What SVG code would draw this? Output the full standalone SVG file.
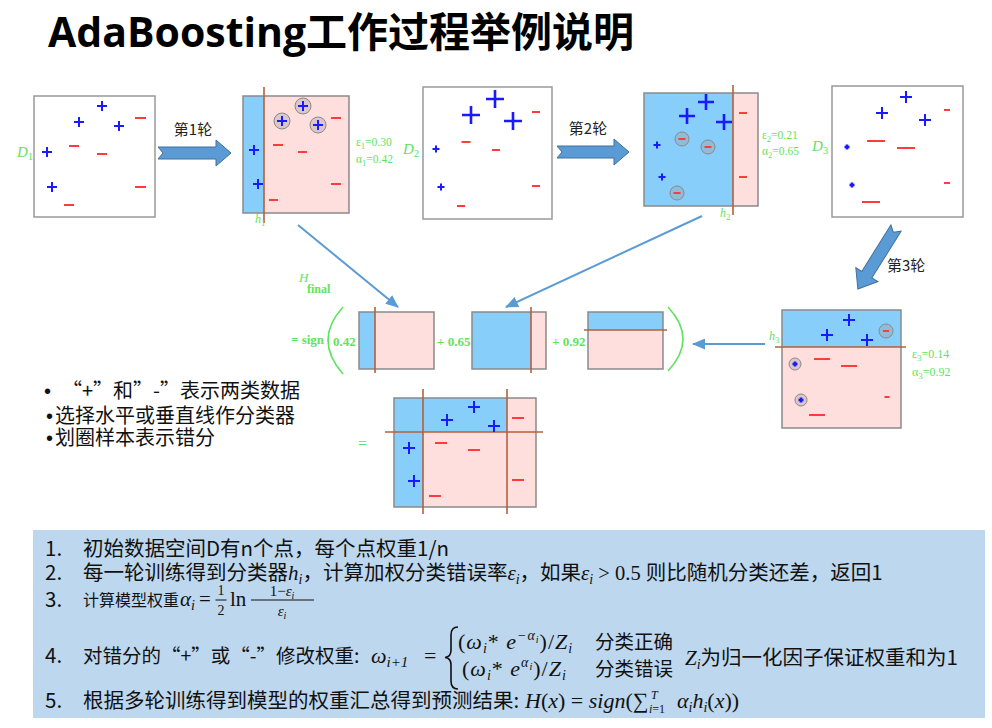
<svg xmlns="http://www.w3.org/2000/svg" width="992" height="728" viewBox="0 0 992 728">
<defs>
<style>
.title{font-family:"Open Sans","Noto Sans CJK SC",sans-serif;font-weight:bold;font-size:41px;fill:#000}
.box{fill:#fff;stroke:#999;stroke-width:1.5}
.blue{fill:#87cefa}
.pink{fill:#ffdede}
.frame{fill:none;stroke:#8a8a8a;stroke-width:1.5}
.split{stroke:#b5603a;stroke-width:1.6}
.p{stroke:#1a1aff;stroke-width:2;fill:none}
.pb{stroke:#1a1aff;stroke-width:2.6;fill:none}
.m{stroke:#ff3b3b;stroke-width:2;fill:none}
.ring{fill:#9a9a9a;fill-opacity:.35;stroke:#8a8a8a;stroke-width:1}
.g{font-family:"Liberation Serif",serif;fill:#5fe35f}
.gi{font-style:italic}
.gb{font-weight:bold}
.blk{fill:#5b9bd5;stroke:#41719c;stroke-width:1}
.lbl{font-family:"Noto Sans CJK SC",sans-serif;font-size:15px;fill:#222}
.conn{stroke:#5b9bd5;stroke-width:2;fill:none}
.bul{font-family:"Noto Sans CJK SC",sans-serif;font-size:20px;fill:#111}
.dot{font-family:"Liberation Sans",sans-serif;font-size:20px;fill:#111}
.bt{font-family:"Noto Sans CJK SC",sans-serif;font-size:20.5px;fill:#111}
.mi{font-family:"Liberation Serif",serif;font-style:italic;font-size:21px;fill:#111}
.mr{font-family:"Liberation Serif",serif;font-style:normal}
.ms{font-family:"Liberation Serif",serif;font-style:italic;font-size:14px}
.gp{fill:none;stroke:#5fe35f;stroke-width:1.6}
</style>
<marker id="ah" markerWidth="13" markerHeight="11" refX="12" refY="5.5" orient="auto" markerUnits="userSpaceOnUse">
<path d="M0,0 L13,5.5 L0,11 z" fill="#5b9bd5"/>
</marker>
</defs>
<rect width="992" height="728" fill="#fff"/>

<g id="title">
<text x="48" y="47" class="title">AdaBoosting工作过程举例说明</text>
</g>

<g id="panel-d1">
<rect x="34" y="96" width="121" height="121" class="box"/>
<path class="p" d="M97 106h10M102 101v10M74 122h10M79 117v10M114 126h10M119 121v10M42 152h10M47 147v10M47 187h10M52 182v10"/>
<path class="m" d="M135 118h11M69 146h10M97 154h10M135 187h11M64 205h10"/>
<text x="17" y="157" class="g gi" font-size="15">D<tspan font-size="11" dy="3" font-style="normal">1</tspan></text>
</g>

<g id="panel-h1">
<rect x="243" y="96" width="21" height="117" class="blue"/>
<rect x="264" y="96" width="85" height="117" class="pink"/>
<rect x="243" y="96" width="106" height="117" class="frame"/>
<line x1="264" y1="87" x2="264" y2="223" class="split"/>
<circle cx="303" cy="106" r="8" class="ring"/><circle cx="282" cy="121" r="8" class="ring"/><circle cx="318" cy="125" r="8" class="ring"/>
<path class="p" d="M298 106h10M303 101v10M277 121h10M282 116v10M313 125h10M318 120v10M249 150h10M254 145v10M253 184h10M258 179v10"/>
<path class="m" d="M331 118h10M273 145h10M298 152h9M331 184h10M269 200h9"/>
<text x="255" y="223" class="g gi" font-size="12">h<tspan font-size="9" dy="3" font-style="normal">1</tspan></text>
<text x="356" y="146" class="g" font-size="11.5">ε<tspan font-size="8.5" dy="3">1</tspan><tspan dy="-3">=0.30</tspan></text>
<text x="356" y="163" class="g" font-size="11.5">α<tspan font-size="8.5" dy="3">1</tspan><tspan dy="-3">=0.42</tspan></text>
</g>

<g id="panel-d2">
<rect x="423" y="87" width="129" height="132" class="box"/>
<path class="pb" d="M486 99h18M495 90v18M462 115h18M471 106v18M504 121h18M513 112v18"/>
<path class="p" d="M432.5 149h7M436 145.5v7M437.5 187h7M441 183.5v7"/>
<path class="m" d="M532 112h8M461.5 142h9M492 150h8M532 186h8M457 206h8"/>
<text x="403" y="154" class="g gi" font-size="15">D<tspan font-size="11" dy="3" font-style="normal">2</tspan></text>
</g>

<g id="panel-h2">
<rect x="644" y="93" width="89" height="113" class="blue"/>
<rect x="733" y="93" width="25" height="113" class="pink"/>
<rect x="644" y="93" width="114" height="113" class="frame"/>
<line x1="733" y1="85" x2="733" y2="215" class="split"/>
<path class="pb" d="M698 102h16M706 94v16M679 116h16M687 108v16M716 122h16M724 114v16"/>
<path class="p" d="M653.5 145h7M657 141.5v7M658.5 177h7M662 173.5v7"/>
<circle cx="682" cy="139" r="7" class="ring"/><circle cx="708" cy="147" r="7" class="ring"/><circle cx="677" cy="193" r="7" class="ring"/>
<path class="m" d="M739 113h8M739 177h8M678.5 139h7M704.5 147h7M673.5 193h7"/>
<text x="720" y="217" class="g gi" font-size="12">h<tspan font-size="9" dy="3" font-style="normal">2</tspan></text>
<text x="762" y="139" class="g" font-size="11.5">ε<tspan font-size="8.5" dy="3">2</tspan><tspan dy="-3">=0.21</tspan></text>
<text x="762" y="155" class="g" font-size="11.5">α<tspan font-size="8.5" dy="3">2</tspan><tspan dy="-3">=0.65</tspan></text>
</g>

<g id="panel-d3">
<rect x="832" y="86" width="131" height="131" class="box"/>
<path class="p" d="M900 97h12M906 91v12M876 113h12M882 107v12M919 120h12M925 114v12"/>
<path class="pb" d="M844.5 147h5M847 144.5v5M849.5 185h5M852 182.5v5"/>
<path class="m" d="M944 110h6M944 183h6M867 141h18M897 148h18M862 202h18"/>
<text x="812" y="151" class="g gi" font-size="15">D<tspan font-size="11" dy="3" font-style="normal">3</tspan></text>
</g>

<g id="panel-h3">
<rect x="782" y="310" width="119" height="37" class="blue"/>
<rect x="782" y="347" width="119" height="81" class="pink"/>
<rect x="782" y="310" width="119" height="118" class="frame"/>
<line x1="775" y1="347" x2="906" y2="347" class="split"/>
<path class="p" d="M843 320h12M849 314v12M821 335h12M827 329v12M861 340h12M867 334v12"/>
<circle cx="886" cy="331" r="7" class="ring"/><circle cx="795" cy="364" r="6" class="ring"/><circle cx="801" cy="400" r="6" class="ring"/>
<path class="pb" d="M792.5 364h5M795 361.5v5M798.5 400h5M801 397.5v5"/>
<path class="m" d="M883 331h6M814 359h16M841 366h16M809 415h16M884.5 397h5"/>
<text x="769" y="340" class="g gi" font-size="12">h<tspan font-size="9" dy="3" font-style="normal">3</tspan></text>
<text x="912" y="358" class="g" font-size="12">ε<tspan font-size="9" dy="3">3</tspan><tspan dy="-3">=0.14</tspan></text>
<text x="912" y="376" class="g" font-size="12">α<tspan font-size="9" dy="3">3</tspan><tspan dy="-3">=0.92</tspan></text>
</g>

<g id="formula">
<text x="299" y="282" class="g gi" font-size="13">H</text>
<text x="307" y="293" class="g gb" font-size="12">final</text>
<text x="291" y="344" class="g gb" font-size="13">= sign</text>
<path class="gp" d="M343 307Q313 340 343 374"/>
<text x="333" y="346" class="g gb" font-size="13">0.42</text>
<rect x="359" y="312" width="16" height="57" class="blue"/>
<rect x="375" y="312" width="59" height="57" class="pink"/>
<rect x="359" y="312" width="75" height="57" class="frame"/>
<line x1="375" y1="307" x2="375" y2="373" class="split"/>
<text x="437" y="346" class="g gb" font-size="13">+ 0.65</text>
<rect x="472" y="312" width="59" height="57" class="blue"/>
<rect x="531" y="312" width="15" height="57" class="pink"/>
<rect x="472" y="312" width="74" height="57" class="frame"/>
<line x1="531" y1="307" x2="531" y2="373" class="split"/>
<text x="552" y="346" class="g gb" font-size="13">+ 0.92</text>
<rect x="588" y="312" width="75" height="18" class="blue"/>
<rect x="588" y="330" width="75" height="39" class="pink"/>
<rect x="588" y="312" width="75" height="57" class="frame"/>
<line x1="584" y1="330" x2="667" y2="330" class="split"/>
<path class="gp" d="M668 307Q698 339 668 371"/>
</g>

<g id="final">
<text x="358" y="449" class="g" font-size="16">=</text>
<rect x="394" y="398" width="113" height="34" class="blue"/>
<rect x="394" y="432" width="29" height="75" class="blue"/>
<rect x="507" y="398" width="29" height="109" class="pink"/>
<rect x="423" y="432" width="84" height="75" class="pink"/>
<rect x="394" y="398" width="142" height="109" class="frame"/>
<line x1="423" y1="389" x2="423" y2="514" class="split"/>
<line x1="507" y1="389" x2="507" y2="514" class="split"/>
<line x1="385" y1="432" x2="543" y2="432" class="split"/>
<path class="p" d="M468 407h12M474 401v12M441 420h12M447 414v12M488 426h12M494 420v12M403 448h12M409 442v12M408 481h12M414 475v12"/>
<path class="m" d="M512 418h12M435 443h12M468 450h12M512 480h12M429 496h12"/>
</g>

<g id="bullets">
<text x="44" y="398" class="dot">•</text><text x="62" y="398" class="bul">“+”和”-”表示两类数据</text>
<text x="46" y="423" class="dot">•</text><text x="55" y="423" class="bul">选择水平或垂直线作分类器</text>
<text x="46" y="445" class="dot">•</text><text x="55" y="445" class="bul">划圈样本表示错分</text>
</g>

<g id="steps">
<rect x="33" y="530" width="952" height="188" fill="#bdd7ee"/>
<text x="45" y="556" class="bt">1.</text>
<text x="83" y="556" class="bt">初始数据空间D有n个点，每个点权重1/n</text>
<text x="45" y="580" class="bt">2.</text>
<text x="83" y="580" class="bt">每一轮训练得到分类器<tspan class="mi">h</tspan><tspan class="ms" dy="4">i</tspan><tspan dy="-4">，计算加权分类错误率</tspan><tspan class="mi">ε</tspan><tspan class="ms" dy="4">i</tspan><tspan dy="-4">，如果</tspan><tspan class="mi">ε</tspan><tspan class="ms" dy="4">i</tspan><tspan class="mr" dy="-4">&#160;&gt;&#160;0.5&#160;</tspan>则比随机分类还差，返回1</text>
<text x="45" y="607" class="bt">3.</text>
<text x="83" y="606" class="bt" style="font-size:16px">计算模型权重</text>
<text x="180" y="606" class="mi">α<tspan class="ms" dy="4">i</tspan></text>
<text x="199" y="606" class="mi"><tspan class="mr">=</tspan></text>
<text x="221" y="595" class="mi" text-anchor="middle" style="font-size:14px"><tspan class="mr">1</tspan></text>
<line x1="215.5" y1="600" x2="226.5" y2="600" stroke="#111" stroke-width="1"/>
<text x="221" y="615" class="mi" text-anchor="middle" style="font-size:14px"><tspan class="mr">2</tspan></text>
<text x="230" y="606" class="mi"><tspan class="mr">ln</tspan></text>
<text x="282" y="596" class="mi" text-anchor="middle" style="font-size:15px"><tspan class="mr">1−</tspan>ε<tspan style="font-size:10px" dy="3">i</tspan></text>
<line x1="251" y1="600" x2="314" y2="600" stroke="#111" stroke-width="1"/>
<text x="282" y="616" class="mi" text-anchor="middle" style="font-size:15px">ε<tspan style="font-size:10px" dy="3">i</tspan></text>

<text x="45" y="663" class="bt">4.</text>
<text x="83" y="663" class="bt" style="font-size:19.5px">对错分的“+”或“-”修改权重:</text>
<text x="371" y="663" class="mi" style="font-size:22px">ω<tspan class="ms" style="font-size:15px" dy="4">i+1</tspan></text>
<text x="424" y="663" class="mi" style="font-size:22px"><tspan class="mr">=</tspan></text>
<path d="M458 627Q451 627 451 635L451 650Q451 657 445 657.5Q451 658 451 665L451 681Q451 689 458 689" fill="none" stroke="#111" stroke-width="1.6"/>
<text x="458" y="649" class="mi" style="font-size:22px;letter-spacing:1px"><tspan class="mr">(</tspan>ω<tspan class="ms" dy="4">i</tspan><tspan class="mr" dy="-4">*&#160;</tspan>e<tspan class="ms" dy="-9">−α</tspan><tspan style="font-size:10px" dy="3">i</tspan><tspan class="mr" dy="6">)/</tspan>Z<tspan class="ms" dy="4">i</tspan></text>
<text x="462" y="676" class="mi" style="font-size:22px;letter-spacing:1px"><tspan class="mr">(</tspan>ω<tspan class="ms" dy="4">i</tspan><tspan class="mr" dy="-4">*&#160;</tspan>e<tspan class="ms" dy="-9">α</tspan><tspan style="font-size:10px" dy="3">i</tspan><tspan class="mr" dy="6">)/</tspan>Z<tspan class="ms" dy="4">i</tspan></text>
<text x="595" y="649" class="bt" style="font-size:19.5px">分类正确</text>
<text x="595" y="676" class="bt" style="font-size:19.5px">分类错误</text>
<text x="685" y="665" class="bt"><tspan class="mi">Z</tspan><tspan class="ms" dy="4">i</tspan><tspan dy="-4">为归一化因子保证权重和为1</tspan></text>

<text x="45" y="708" class="bt">5.</text>
<text x="83" y="708" class="bt">根据多轮训练得到模型的权重汇总得到预测结果:</text>
<text x="525" y="708" class="mi" style="font-size:22px">H<tspan class="mr">(</tspan>x<tspan class="mr">)&#160;=&#160;</tspan>sign<tspan class="mr">(∑</tspan></text>
<text x="651" y="699" class="mi" style="font-size:12px">T</text>
<text x="649" y="713" class="mi" style="font-size:12px">i<tspan class="mr">=1</tspan></text>
<text x="677" y="708" class="mi" style="font-size:22px">α<tspan class="ms" dy="4">i</tspan><tspan dy="-4">h</tspan><tspan class="ms" dy="4">i</tspan><tspan class="mr" dy="-4">(</tspan>x<tspan class="mr">))</tspan></text>
</g>

<g id="connectors">
<polygon class="blk" points="158,147 216,147 216,140 231,153 216,166 216,159 158,159 163,153"/>
<text x="193" y="135" class="lbl" text-anchor="middle">第1轮</text>
<polygon class="blk" points="557,146 614,146 614,139 629,152 614,165 614,158 557,158 562,152"/>
<text x="588" y="134" class="lbl" text-anchor="middle">第2轮</text>
<polygon class="blk" points="0,-6 55,-6 55,-13 72,0 55,13 55,6 0,6 5,0" transform="translate(896,228) rotate(122)"/>
<text x="887" y="271" class="lbl">第3轮</text>
<path class="conn" d="M298 225L398 307" marker-end="url(#ah)"/>
<path class="conn" d="M702 216L506 307" marker-end="url(#ah)"/>
<path class="conn" d="M765 344L693 344" marker-end="url(#ah)"/>
</g>
</svg>
